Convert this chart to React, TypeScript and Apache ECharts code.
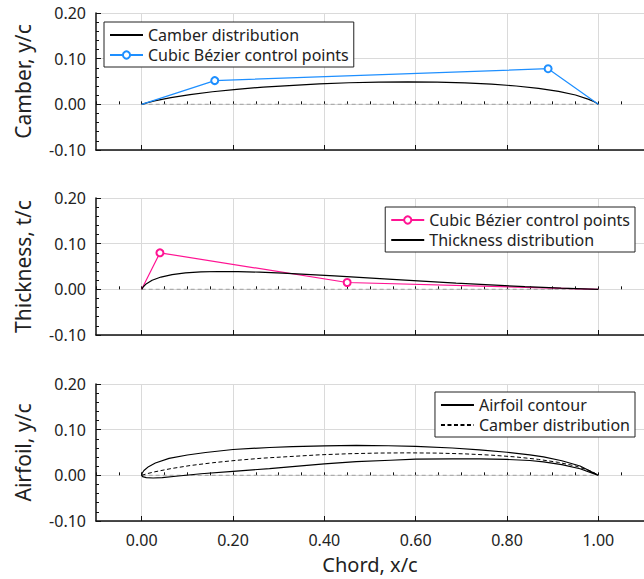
import React, { useEffect, useRef } from 'react';
import * as echarts from 'echarts';

const FONT = "'Noto Sans', sans-serif";

const xMajorTicks = [0, 0.2, 0.4, 0.6, 0.8, 1.0];
const chordLine: [number, number][] = [[0, 0], [1, 0]];

const camberCurve: [number, number][] = [
  [0, 0], [0.013, 0.0039], [0.028, 0.0076], [0.064, 0.0147], [0.106, 0.0214],
  [0.155, 0.0275], [0.208, 0.0329], [0.266, 0.0377], [0.389, 0.0449], [0.454, 0.0473],
  [0.519, 0.0488], [0.583, 0.0492], [0.647, 0.0487], [0.708, 0.047], [0.766, 0.0442],
  [0.82, 0.0402], [0.869, 0.0349], [0.913, 0.0283], [0.95, 0.0204], [0.979, 0.0109],
  [0.991, 0.0057], [1, 0],
];
const camberControl: [number, number][] = [[0, 0], [0.16, 0.052], [0.89, 0.078], [1, 0]];

const thicknessControl: [number, number][] = [[0, 0], [0.04, 0.08], [0.45, 0.015], [1, 0]];
const thicknessCurve: [number, number][] = [
  [0, 0], [0.0037, 0.0057], [0.0088, 0.0109], [0.0229, 0.0199], [0.0422, 0.0269],
  [0.0666, 0.0322], [0.0958, 0.0359], [0.1297, 0.0381], [0.1681, 0.0391], [0.2109, 0.0389],
  [0.2578, 0.0377], [0.3088, 0.0356], [0.4219, 0.0295], [0.549, 0.0217], [0.6886, 0.0134],
  [0.8394, 0.0058], [0.9186, 0.0026], [1, 0],
];

const airfoilUpper: [number, number][] = [
  [1, 0], [0.96, 0.0205], [0.92, 0.032], [0.88, 0.0405], [0.85, 0.045], [0.8, 0.0505],
  [0.74, 0.0558], [0.68, 0.0598], [0.6, 0.0632], [0.54, 0.0648], [0.47, 0.0655],
  [0.4, 0.0647], [0.33, 0.0628], [0.28, 0.061], [0.2, 0.0566], [0.14, 0.05],
  [0.1, 0.0445], [0.06, 0.037], [0.03, 0.027], [0.015, 0.019], [0.005, 0.0105],
  [0.001, 0.0045], [0, 0],
];
const airfoilLower: [number, number][] = [
  [0.002, -0.003], [0.01, -0.005], [0.025, -0.0058], [0.045, -0.005], [0.075, -0.002],
  [0.13, 0.0035], [0.2, 0.0088], [0.28, 0.0147], [0.33, 0.019], [0.4, 0.025],
  [0.47, 0.03], [0.545, 0.033], [0.6, 0.0353], [0.68, 0.0362], [0.74, 0.0362],
  [0.8, 0.0348], [0.85, 0.0325], [0.88, 0.0295], [0.92, 0.0235], [0.96, 0.0145], [1, 0],
];
const airfoilContour = [...airfoilUpper, ...airfoilLower];

const yNames = ['Camber, y/c', 'Thickness, t/c', 'Airfoil, y/c'];
const gridTops = [13, 198, 384];
const GRID_H = 137;

const markInterior = (pts: [number, number][]) =>
  pts.map((p, k) => ({ value: p, symbol: k === 0 || k === pts.length - 1 ? 'none' : 'emptyCircle' }));

export default function App() {
  const ref = useRef<HTMLDivElement>(null);
  useEffect(() => {
    if (!ref.current) return;
    const chart = echarts.init(ref.current, undefined, { renderer: 'svg' });
    const textBase = { fontFamily: FONT, color: '#222' };

    const grids: any[] = [];
    const xAxes: any[] = [];
    const yAxes: any[] = [];
    for (let k = 0; k < 2; k++) {
      for (let i = 0; i < 3; i++) grids.push({ left: 96, right: 0, top: gridTops[i], height: GRID_H });
    }
    for (let i = 0; i < 3; i++) {
      xAxes.push({
        type: 'value', gridIndex: i, min: -0.1, max: 1.1,
        axisLine: { show: true, onZero: false, lineStyle: { color: '#111', width: 1.5 } },
        axisTick: { show: true, inside: true, length: 5, customValues: xMajorTicks, lineStyle: { color: '#111', width: 1 } },
        axisLabel: { show: i === 2, customValues: xMajorTicks, formatter: (v: number) => v.toFixed(2), margin: 11, fontSize: 16, ...textBase },
        splitLine: { show: true, lineStyle: { color: '#dadada', width: 1 } },
        name: i === 2 ? 'Chord, x/c' : '', nameLocation: 'middle', nameGap: 33,
        nameTextStyle: { fontSize: 20, ...textBase },
      });
      yAxes.push({
        type: 'value', gridIndex: i, min: -0.1, max: 0.2, interval: 0.1,
        axisLine: { show: true, onZero: false, lineStyle: { color: '#111', width: 1.5 } },
        axisTick: { show: true, inside: true, length: 5, lineStyle: { color: '#111', width: 1 } },
        minorTick: { show: true, splitNumber: 5, length: 3, lineStyle: { color: '#111', width: 1 } },
        axisLabel: { formatter: (v: number) => v.toFixed(2), margin: 10, fontSize: 16, ...textBase },
        splitLine: { show: true, lineStyle: { color: '#dadada', width: 1 } },
        name: yNames[i], nameLocation: 'middle', nameGap: 63, nameRotate: 90,
        nameTextStyle: { fontSize: 21, ...textBase },
      });
    }
    for (let i = 0; i < 3; i++) {
      xAxes.push({
        type: 'value', gridIndex: 3 + i, min: -0.1, max: 1.1, interval: 0.05,
        axisLine: { show: false },
        axisTick: { show: true, inside: true, length: 3, lineStyle: { color: '#111', width: 1 } },
        axisLabel: { show: false },
        splitLine: { show: false },
      });
      yAxes.push({ type: 'value', gridIndex: 3 + i, min: -0.1, max: 0.2, show: false });
    }

    const chordSeries = (i: number) => ({
      type: 'line', xAxisIndex: i, yAxisIndex: i, data: chordLine, symbol: 'none', silent: true, z: 1,
      lineStyle: { color: '#adadad', type: [4, 3], width: 1.2 },
    });

    const legendBase = {
      orient: 'vertical', backgroundColor: '#fff', borderColor: '#222', borderWidth: 1, borderRadius: 0,
      padding: [5, 5, 4, 5], itemWidth: 33, itemHeight: 9, itemGap: 4, selectedMode: false,
      textStyle: { fontSize: 16, ...textBase }, formatter: (n: string) => n.trim(),
    };
    const lineOnly = (name: string) => ({ name, itemStyle: { opacity: 0, color: 'transparent', borderWidth: 0 } });

    chart.setOption({
      animation: false,
      grid: grids,
      xAxis: xAxes,
      yAxis: yAxes,
      legend: [
        { ...legendBase, data: [lineOnly('Camber distribution'), { name: 'Cubic Bézier control points' }], left: 104, top: 22 },
        { ...legendBase, data: [{ name: 'Cubic Bézier control points ' }, lineOnly('Thickness distribution')], right: 9, top: 207 },
        { ...legendBase, data: [lineOnly('Airfoil contour'), lineOnly('Camber distribution ')], right: 9, top: 392 },
      ],
      series: [
        chordSeries(0), chordSeries(1), chordSeries(2),
        {
          name: 'Camber distribution', type: 'line', xAxisIndex: 0, yAxisIndex: 0, data: camberCurve,
          symbol: 'none', lineStyle: { color: '#000', width: 1.2 }, itemStyle: { color: '#000' },
        },
        {
          name: 'Cubic Bézier control points', type: 'line', xAxisIndex: 0, yAxisIndex: 0, data: markInterior(camberControl),
          symbol: 'emptyCircle', symbolSize: 7, showAllSymbol: true,
          lineStyle: { color: '#1e8fff', width: 1.2 }, itemStyle: { color: '#1e8fff', borderWidth: 1.2 },
        },
        {
          name: 'Cubic Bézier control points ', type: 'line', xAxisIndex: 1, yAxisIndex: 1, data: markInterior(thicknessControl),
          symbol: 'emptyCircle', symbolSize: 7, showAllSymbol: true,
          lineStyle: { color: '#ff1493', width: 1.2 }, itemStyle: { color: '#ff1493', borderWidth: 1.2 },
        },
        {
          name: 'Thickness distribution', type: 'line', xAxisIndex: 1, yAxisIndex: 1, data: thicknessCurve,
          symbol: 'none', lineStyle: { color: '#000', width: 1.2 }, itemStyle: { color: '#000' },
        },
        {
          name: 'Airfoil contour', type: 'line', xAxisIndex: 2, yAxisIndex: 2, data: airfoilContour,
          symbol: 'none', lineStyle: { color: '#000', width: 1.2 }, itemStyle: { color: '#000' },
        },
        {
          name: 'Camber distribution ', type: 'line', xAxisIndex: 2, yAxisIndex: 2, data: camberCurve,
          symbol: 'none', lineStyle: { color: '#000', width: 1, type: [4, 2.5] }, itemStyle: { color: '#000' },
        },
      ],
    });
    return () => chart.dispose();
  }, []);
  return <div ref={ref} style={{ position: 'fixed', left: 0, top: 0, width: 644, height: 579, background: '#fff' }} />;
}
